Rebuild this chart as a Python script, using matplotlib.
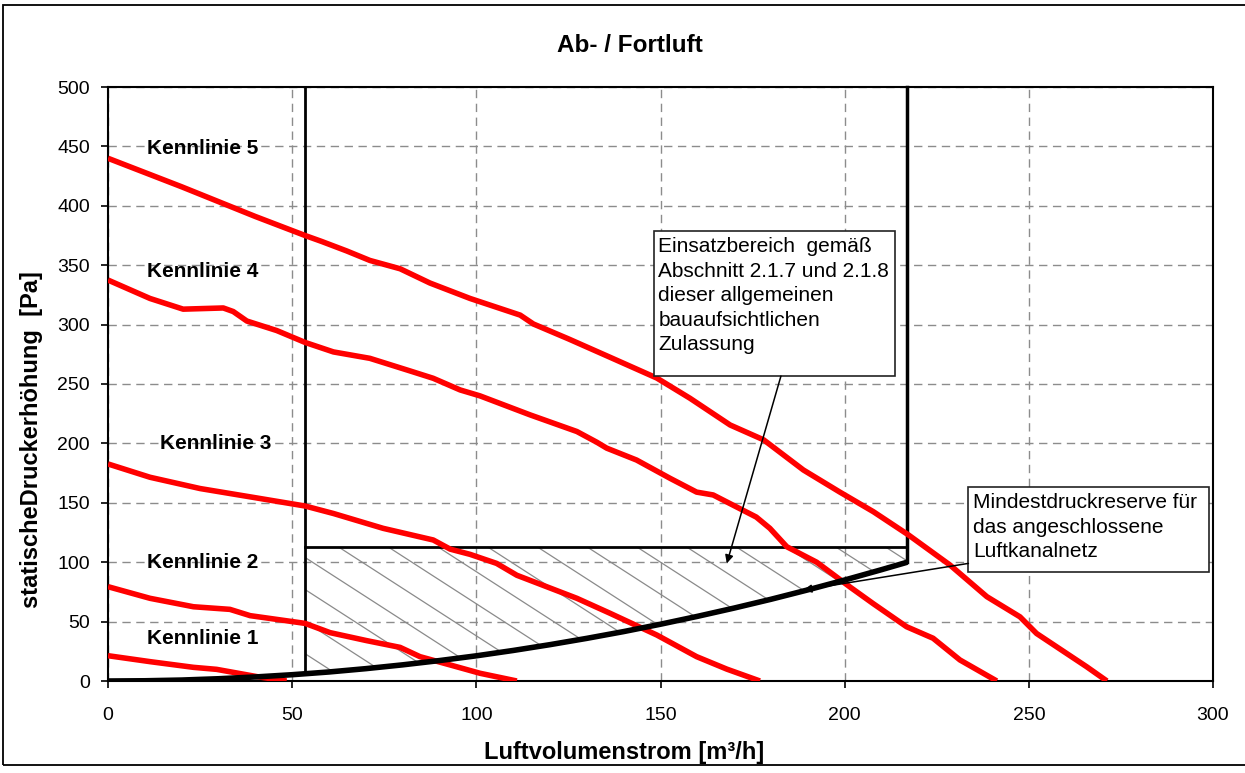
import numpy as np
import matplotlib.pyplot as plt
from matplotlib.patches import Rectangle, Polygon
from matplotlib.collections import LineCollection

plt.rcParams['font.family'] = ['Liberation Sans', 'DejaVu Sans']

# --- data: x = Luftvolumenstrom [m³/h], y = Druck [Pa] ---
k1_x = [0, 11.4, 23.2, 29.5, 40.4, 48.5]
k1_y = [21.3, 16.3, 11.5, 9.8, 3.7, 0]

k2_x = [0, 11.4, 23.2, 33.1, 38.6, 53.5, 60.3, 70.2, 79.3, 84.7, 92.9, 101, 111]
k2_y = [79.4, 69.6, 62.5, 60.3, 55, 48.5, 40.7, 34, 28.3, 20.5, 13.5, 6.5, 0]

k3_x = [0, 11.4, 25, 38.6, 53.5, 61.2, 74.7, 88.3, 92.9, 98.3, 105.5, 111,
        127.3, 136.3, 149, 159.8, 168, 177]
k3_y = [182.7, 171.5, 162, 155, 147.3, 141, 128.5, 118.7, 111, 106.6, 99, 89,
        69.6, 57, 38.7, 20.5, 10, 0]

k4_x = [0, 11.4, 20.4, 31.3, 34, 37.7, 45.8, 53.5, 61.2, 71.1, 82, 88.3, 95.6,
        101, 114.6, 127.3, 132.7, 135.4, 143.5, 152.6, 159.8, 164.3, 176, 179.7,
        184.3, 192.4, 201.5, 207.8, 216.8, 224, 231.3, 241.3]
k4_y = [337.5, 322, 313, 314, 311, 303, 295, 285, 277, 271.6, 261, 254.8, 245,
        240, 224, 210, 201, 196, 186, 170.6, 159, 156.6, 138, 128.5,
        113, 100, 79, 65, 45.7, 36, 17.7, 0]

k5_x = [0, 10, 20, 30, 40, 53.5, 58, 64.8, 71.1, 79.3, 87.4, 98.3, 111.9, 115.5,
        125, 136.3, 149, 158, 168.9, 178, 188.8, 198.7, 207.8, 217.3, 228.6,
        238.6, 247.6, 252.1, 265.7, 271.2]
k5_y = [440, 428, 416, 403.5, 391, 375, 370, 362, 354, 347, 335, 322, 308, 300.5,
        288, 272.5, 255, 238, 215.5, 203, 177.6, 159, 142.5, 123, 97.6,
        71, 54, 40, 12, 0]

# Anlagenkennlinie (Luftkanalnetz)
sys_x = [0, 10, 20, 30, 40, 50, 60, 70, 80, 90, 100, 110, 120, 130, 140, 150,
         160, 170, 180, 190, 200, 210, 217]
sys_y = [0, 0.2, 0.8, 1.9, 3.4, 5.3, 7.6, 10.4, 13.6, 17.2, 21.2, 25.7, 30.6,
         35.9, 41.6, 47.8, 54.4, 61.4, 68.8, 76.7, 85.0, 93.7, 100]

# Einsatzbereich
op_x_min = 53.5
op_x_max = 217
op_p_min = 113
p_max = 500

labels = ['Kennlinie 1', 'Kennlinie 2', 'Kennlinie 3', 'Kennlinie 4', 'Kennlinie 5']
label_pos = [(10.5, 36), (10.5, 99.6), (14.1, 200), (10.5, 344.5), (10.5, 448)]

W, H = 1245, 773
fig = plt.figure(figsize=(W / 100, H / 100), dpi=100)
ax = fig.add_axes([108 / W, 1 - 681 / H, (1213 - 108) / W, (681 - 87) / H])

# outer chart frame
fig.add_artist(Rectangle((3 / W, 1 - 765 / H), 1.05, (765 - 5) / H, transform=fig.transFigure,
                         fill=False, ec='black', lw=1.3))

ax.set_xlim(0, 300)
ax.set_ylim(0, 500)
ax.set_xticks(np.arange(0, 301, 50))
ax.set_yticks(np.arange(0, 501, 50))
ax.set_axisbelow(True)
ax.grid(True, color='#8c8c8c', linestyle=(0, (6, 4)), linewidth=1)
ax.tick_params(direction='out', length=5, width=1.2, labelsize=14)
ax.tick_params(axis='x', pad=14)
ax.tick_params(axis='y', pad=8)
for sp in ax.spines.values():
    sp.set_linewidth(1.5)

# hatched region between reserve line and system curve
sx = np.array(sys_x, float)
sy = np.array(sys_y, float)
inside = (sx > op_x_min) & (sx < op_x_max)
y_left = np.interp(op_x_min, sx, sy)
poly_pts = [(op_x_min, op_p_min), (op_x_max, op_p_min), (op_x_max, sy[-1])]
poly_pts += list(zip(sx[inside][::-1], sy[inside][::-1]))
poly_pts += [(op_x_min, y_left)]
clip = Polygon(poly_pts, closed=True, fill=False, ec='none')
ax.add_patch(clip)
slope = 2.0
segs = [[(c, op_p_min), (c + op_p_min / slope, 0)] for c in np.arange(-5, 230, 13.5)]
lc = LineCollection(segs, colors='#8a8a8a', linewidths=0.9, zorder=2)
ax.add_collection(lc)
lc.set_clip_path(clip)

# operating range frame
ax.plot([op_x_min, op_x_min], [y_left, p_max], color='black', lw=2, zorder=4, clip_on=False)
ax.plot([op_x_max, op_x_max], [sy[-1], p_max], color='black', lw=2.5, zorder=4, clip_on=False)
ax.plot([op_x_min, op_x_max], [op_p_min, op_p_min], color='black', lw=2, zorder=4)

# fan curves
for xs, ys in [(k1_x, k1_y), (k2_x, k2_y), (k3_x, k3_y), (k4_x, k4_y), (k5_x, k5_y)]:
    ax.plot(xs, ys, color='#ff0000', lw=4, solid_joinstyle='round',
            solid_capstyle='butt', zorder=5)

# system curve
ax.plot(sys_x, sys_y, color='black', lw=4, zorder=6, solid_capstyle='butt')

for txt, (lx, ly) in zip(labels, label_pos):
    ax.text(lx, ly, txt, fontsize=15, fontweight='bold', va='center', ha='left', zorder=7)

# annotation boxes
ax.add_patch(Rectangle((148.2, 256.7), 65.5, 122.1, fc='white', ec='#222222', lw=1.2, zorder=8))
ax.text(149.4, 373.5, 'Einsatzbereich  gemäß\nAbschnitt 2.1.7 und 2.1.8\ndieser allgemeinen\n'
        'bauaufsichtlichen\nZulassung', fontsize=15, va='top', ha='left', linespacing=1.37, zorder=9)
ax.annotate('', xy=(168, 99), xytext=(182.7, 256.7),
            arrowprops=dict(arrowstyle='-|>', color='black', lw=1.1, mutation_scale=12,
                            shrinkA=0, shrinkB=0), zorder=9)

ax.add_patch(Rectangle((233.6, 91.5), 65.4, 71.5, fc='white', ec='#222222', lw=1.2,
                       zorder=8, clip_on=False))
ax.text(234.8, 158, 'Mindestdruckreserve für\ndas angeschlossene\nLuftkanalnetz',
        fontsize=15, va='top', ha='left', linespacing=1.37, zorder=9, clip_on=False)
ax.annotate('', xy=(188.8, 76.6), xytext=(233.6, 99),
            arrowprops=dict(arrowstyle='-|>', color='black', lw=1.1, mutation_scale=12,
                            shrinkA=0, shrinkB=0), zorder=9)

fig.text(630 / W, 1 - 45 / H, 'Ab- / Fortluft', fontsize=17.5, fontweight='bold', ha='center', va='center')
fig.text(624 / W, 1 - 753 / H, 'Luftvolumenstrom [m³/h]', fontsize=17, fontweight='bold',
         ha='center', va='center')
fig.text(32 / W, 1 - 440 / H, 'statischeDruckerhöhung  [Pa]', fontsize=17, fontweight='bold',
         ha='center', va='center', rotation=90)

fig.savefig('out.png', dpi=100)
